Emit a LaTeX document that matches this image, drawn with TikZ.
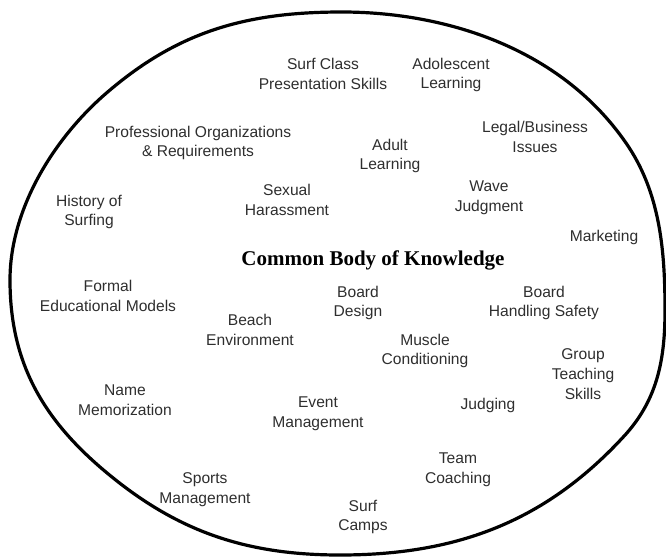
\documentclass[tikz,border=0pt]{standalone}
\usepackage{fontspec}
\setmainfont{Liberation Sans}
\newfontfamily\titlefont{Liberation Serif}
\begin{document}
\begin{tikzpicture}[x=1pt,y=-1pt,
  topic/.style={align=center, text=black!82, inner sep=0pt,
    font=\fontsize{15.6}{19.8}\selectfont},
  title/.style={text=black, inner sep=0pt,
    font=\titlefont\bfseries\fontsize{21}{24}\selectfont},
  rim/.style={line width=3.2pt, black}]
\useasboundingbox (0,0) rectangle (666,557);
\coordinate (p0) at (342,12);
\coordinate (p1) at (626,143);
\coordinate (p2) at (665,310);
\coordinate (p3) at (626,434);
\coordinate (p4) at (340,555);
\coordinate (p5) at (100,467);
\coordinate (p6) at (10,280);
\coordinate (p7) at (110,90);
\draw[rim] (p0) .. controls (442,12) and (559,46) .. (p1)
  .. controls (660,192) and (665,250) .. (p2)
  .. controls (665,358) and (658,398) .. (p3)
  .. controls (547,521) and (458,555) .. (p4)
  .. controls (243,555) and (173,530) .. (p5)
  .. controls (40,415) and (10,359) .. (p6)
  .. controls (10,208) and (55,136) .. (p7)
  .. controls (181,30) and (249,12) .. (p0) -- cycle;

\node[title] (cbk) at (373,260) {Common Body of Knowledge};

\node[topic] (surf)  at (323,74)  {Surf Class\\Presentation Skills};
\node[topic] (adol)  at (451,75)  {Adolescent\\Learning};
\node[topic] (prof)  at (198,143) {Professional Organizations\\\& Requirements};
\node[topic] (adult) at (390,156) {Adult\\Learning};
\node[topic] (legal) at (535,137) {Legal/Business\\Issues};
\node[topic] (sex)   at (287,200) {Sexual\\Harassment};
\node[topic] (wave)  at (489,198) {Wave\\Judgment};
\node[topic] (hist)  at (89,212)  {History of\\Surfing};
\node[topic] (mkt)   at (604,237) {Marketing};
\node[topic] (formal) at (108,296) {Formal\\Educational Models};
\node[topic] (bdes)  at (358,303) {Board\\Design};
\node[topic] (bhand) at (544,303) {Board\\Handling Safety};
\node[topic] (beach) at (250,330) {Beach\\Environment};
\node[topic] (musc)  at (425,351) {Muscle\\Conditioning};
\node[topic] (group) at (583,374) {Group\\Teaching\\Skills};
\node[topic] (name)  at (125,400) {Name\\Memorization};
\node[topic] (event) at (318,414) {Event\\Management};
\node[topic] (judg)  at (488,405) {Judging};
\node[topic] (team)  at (458,470) {Team\\Coaching};
\node[topic] (sports) at (205,490) {Sports\\Management};
\node[topic] (camps) at (363,517) {Surf\\Camps};
\end{tikzpicture}
\end{document}
